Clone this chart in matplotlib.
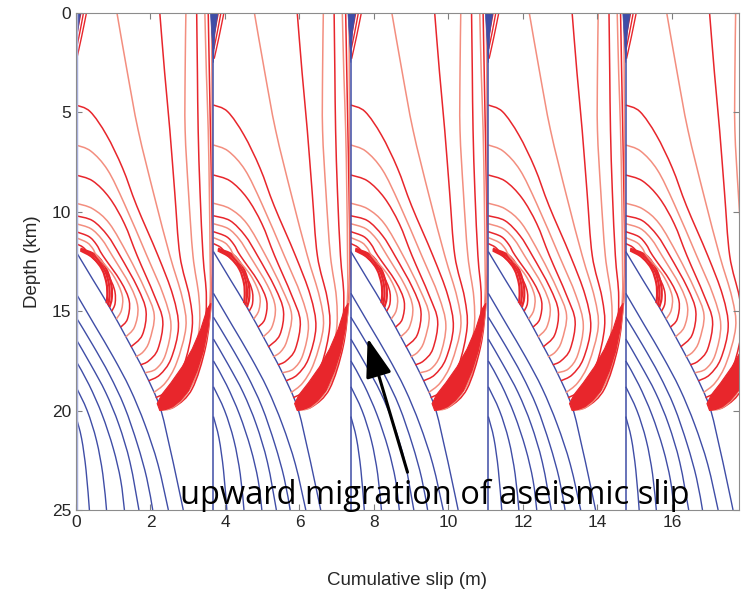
import numpy as np
import matplotlib
matplotlib.use("Agg")
from matplotlib import pyplot as plt
from matplotlib.path import Path
from matplotlib.patches import PathPatch, Polygon

# cycle start positions (m)
cycle_starts = [0.0, 3.69, 7.38, 11.07, 14.76]

# last interseismic profile before each rupture (offset from cycle start, depth km)
envelope = [(0, 12.0), (0.45, 13.4), (0.9, 14.8), (1.4, 16.5), (1.85, 18.1),
            (2.25, 19.8), (2.5, 21.7), (2.7, 23.4), (2.88, 25)]

# interseismic profiles (blue)
blue_lines = [
    [(0, 20.3), (0.15, 21.4), (0.27, 23.0), (0.36, 25)],
    [(0, 18.8), (0.3, 20.0), (0.55, 21.5), (0.72, 23.2), (0.82, 25)],
    [(0, 17.5), (0.35, 18.7), (0.7, 20.2), (1.0, 21.9), (1.2, 23.5), (1.30, 25)],
    [(0, 16.4), (0.4, 17.7), (0.8, 19.1), (1.15, 20.7), (1.45, 22.6), (1.69, 25)],
    [(0, 15.3), (0.45, 16.7), (0.9, 18.2), (1.3, 19.8), (1.65, 21.7), (1.9, 23.4), (2.06, 25)],
    [(0, 14.1), (0.5, 15.7), (1.0, 17.3), (1.45, 18.9), (1.85, 20.7), (2.2, 22.7), (2.48, 25)],
]

# nucleation (hook) profiles
hook_lines = [
    [(0.12, 11.95), (0.45, 12.3), (0.7, 12.9), (0.82, 13.6), (0.84, 14.2), (0.82, 14.6)],
    [(0.12, 11.9), (0.5, 12.25), (0.76, 12.9), (0.88, 13.6), (0.9, 14.25), (0.86, 14.7)],
    [(0.12, 11.85), (0.55, 12.2), (0.82, 12.9), (0.95, 13.7), (0.96, 14.35), (0.9, 14.8)],
]

# coseismic profiles (red), from nucleation to end of rupture
red_lines = [
    [(0, 11.6), (0.2, 11.8), (0.38, 12.2), (0.8, 13.0), (1.03, 13.9), (1.05, 14.6), (0.96, 15.0)],
    [(0, 11.3), (0.3, 11.55), (0.45, 11.85), (0.56, 12.2), (1.0, 13.2), (1.24, 14.2), (1.22, 14.95), (1.08, 15.4)],
    [(0, 11.0), (0.35, 11.25), (0.55, 11.65), (0.72, 12.2), (1.2, 13.5), (1.43, 14.5), (1.38, 15.4), (1.2, 15.8)],
    [(0, 10.6), (0.4, 10.85), (0.7, 11.4), (0.97, 12.2), (1.45, 13.7), (1.66, 14.8), (1.57, 15.8), (1.33, 16.3)],
    [(0, 10.2), (0.45, 10.45), (0.85, 11.2), (1.18, 12.2), (1.65, 13.8), (1.88, 15.0), (1.78, 16.2), (1.47, 16.8)],
    [(0, 9.57), (0.45, 9.85), (0.9, 10.6), (1.4, 12.2), (1.85, 13.9), (2.1, 15.2), (1.97, 16.5), (1.8, 17.05), (1.6, 17.3)],
    [(0, 8.15), (0.45, 8.45), (0.9, 9.3), (1.3, 10.6), (1.64, 12.2), (2.1, 14.2), (2.33, 15.5), (2.2, 16.9), (1.95, 17.5), (1.73, 17.7)],
    [(0, 6.64), (0.4, 6.95), (0.85, 7.9), (1.3, 9.6), (1.9, 12.2), (2.35, 14.2), (2.55, 15.7), (2.4, 17.2), (2.15, 17.9), (1.85, 18.1)],
    [(0, 4.63), (0.38, 4.96), (0.82, 6.14), (1.25, 7.8), (1.63, 9.7), (2.2, 12.2), (2.6, 14.2), (2.75, 15.8), (2.55, 17.4), (2.25, 18.2), (1.95, 18.5)],
    [(1.1, 0), (1.38, 3), (1.67, 5.9), (2.1, 9.2), (2.52, 12.2), (2.85, 14.3), (2.95, 15.8), (2.7, 17.6), (2.4, 18.6), (2.08, 19.1)],
    [(2.25, 0), (2.38, 3), (2.52, 5.9), (2.65, 9), (2.79, 12.2), (3.05, 14.3), (3.12, 15.8), (2.9, 17.7), (2.55, 18.9), (2.14, 19.35)],
    [(2.95, 0), (2.93, 3), (2.93, 5.9), (3.02, 9), (3.14, 12.2), (3.3, 14.3), (3.3, 16.0), (3.05, 18.0), (2.62, 19.25), (2.2, 19.6)],
    [(3.24, 0), (3.26, 3), (3.28, 5.9), (3.33, 9), (3.41, 12.2), (3.5, 14.3), (3.42, 16.4), (3.1, 18.5), (2.65, 19.55), (2.23, 19.8)],
    [(3.46, 0), (3.5, 3), (3.55, 5.9), (3.58, 9), (3.6, 12.2), (3.6, 14.3), (3.48, 16.6), (3.12, 18.7), (2.65, 19.7), (2.25, 19.88)],
    [(3.55, 0), (3.6, 5), (3.64, 9), (3.66, 12.5), (3.63, 14.5), (3.48, 16.8), (3.12, 18.9), (2.65, 19.8), (2.25, 19.94)],
    [(3.64, 0), (3.66, 8), (3.67, 12.5), (3.62, 14.8), (3.42, 17.0), (3.02, 19.0), (2.6, 19.85), (2.25, 19.97)],
]

# densely packed last rupture profiles (drawn as a solid band)
blob = [(3.62, 14.6), (3.55, 15.8), (3.42, 17.0), (3.25, 18.0), (3.02, 19.0), (2.8, 19.5),
        (2.6, 19.8), (2.4, 19.95), (2.25, 20.0), (2.18, 19.65), (2.3, 19.2), (2.55, 18.6),
        (2.85, 17.8), (3.12, 16.9), (3.35, 15.9), (3.52, 14.9)]

# shallow slip right after each event
top_wedge = [(-0.08, 0), (0.12, 0), (0.04, 1.0), (0.0, 2.5)]
top_red = [
    [(0.0, 1.4), (0.06, 0.7), (0.13, 0)],
    [(0.01, 1.8), (0.1, 1.0), (0.2, 0)],
    [(0.02, 2.3), (0.15, 1.2), (0.28, 0)],
]

blue = "#3F4DA6"
red_a = "#E8262C"
red_b = "#F38E7F"


def smooth(pts):
    p = np.array(pts, float)
    n = len(p)
    verts = [p[0]]
    codes = [Path.MOVETO]
    for i in range(n - 1):
        p0 = p[i - 1] if i > 0 else p[i]
        p3 = p[i + 2] if i + 2 < n else p[i + 1]
        verts += [p[i] + (p[i + 1] - p0) / 6, p[i + 1] - (p3 - p[i]) / 6, p[i + 1]]
        codes += [Path.CURVE4] * 3
    return Path(verts, codes)


def shift(pts, x0):
    return [(x + x0, z) for x, z in pts]


fig = plt.figure(figsize=(7.43, 5.94), dpi=100)
ax = fig.add_axes([76 / 743, 1 - 510 / 594, 663 / 743, 497 / 594])

for x0 in cycle_starts:
    ax.plot([x0, x0], [0, 25], color=blue, lw=1.1)
    for b in blue_lines:
        ax.add_patch(PathPatch(smooth(shift(b, x0)), fill=False, ec=blue, lw=1.0))
    ax.add_patch(PathPatch(smooth(shift(envelope, x0)), fill=False, ec=blue, lw=1.0))
    for h in hook_lines:
        ax.add_patch(PathPatch(smooth(shift(h, x0)), fill=False, ec=red_a, lw=1.6))
    for i, r in enumerate(red_lines):
        c = red_a if i % 2 == 0 else red_b
        ax.add_patch(PathPatch(smooth(shift(r, x0)), fill=False, ec=c, lw=1.1))
    ax.add_patch(Polygon(shift(blob, x0), closed=True, fc=red_a, ec=red_a, lw=0.8))
    for r in top_red:
        ax.add_patch(PathPatch(smooth(shift(r, x0)), fill=False, ec=red_a, lw=1.0))
    ax.add_patch(Polygon(shift(top_wedge, x0), closed=True, fc=blue, ec=blue, lw=0.5))

# initial profile
ax.plot([0, 0], [0, 25], color="#A9B1DE", lw=2.5)

ax.set_xlim(0, 17.8)
ax.set_ylim(25, 0)
ax.set_xticks(range(0, 17, 2))
ax.set_yticks(range(0, 26, 5))
ax.tick_params(direction="in", top=True, right=True, labelsize=12.5,
               colors="#7F7F7F", labelcolor="#262626", length=4)
for s in ax.spines.values():
    s.set_color("#8C8C8C")
ax.set_xlabel("Cumulative slip (m)", fontsize=13.5, color="#262626",
              family="Liberation Sans", labelpad=30)
ax.set_ylabel("Depth (km)", fontsize=13.5, color="#262626",
              family="Liberation Sans", labelpad=8)
for lab in ax.get_xticklabels() + ax.get_yticklabels():
    lab.set_family("Liberation Sans")

ax.annotate("", xy=(7.83, 16.35), xytext=(8.9, 23.1),
            arrowprops=dict(arrowstyle="-|>,head_length=1.2,head_width=0.4",
                            lw=2.2, color="black", mutation_scale=20, shrinkA=0, shrinkB=0))
ax.text(2.79, 24.25, "upward migration of aseismic slip", fontsize=23.5,
        family="Open Sans", color="black", ha="left", va="center")

fig.savefig("out.png", dpi=100)
